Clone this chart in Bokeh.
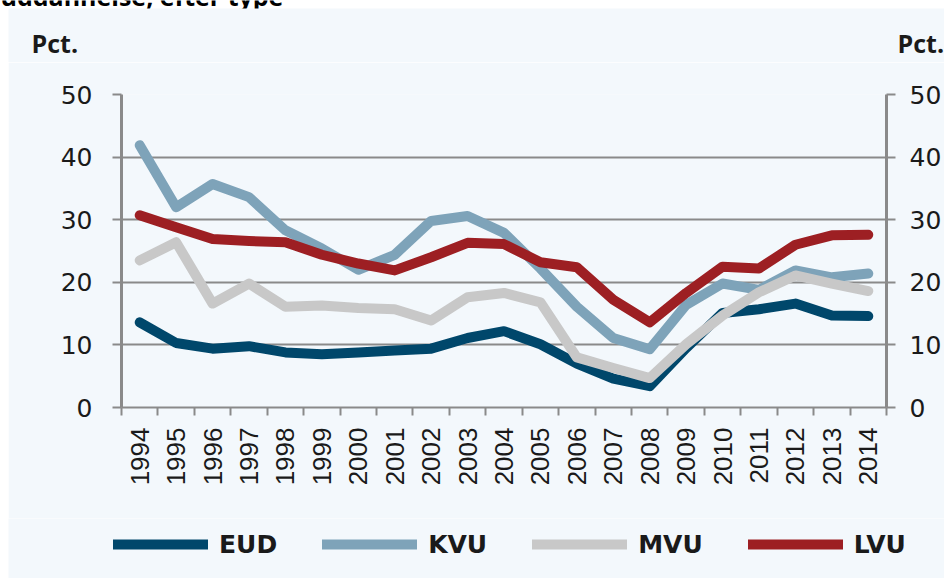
import math
from bokeh.plotting import figure
from bokeh.models import (ColumnDataSource, FixedTicker, LinearAxis, Range1d,
                          Legend, LegendItem, Label, BoxAnnotation)
from bokeh.layouts import column
from bokeh.embed import file_html
from bokeh.resources import INLINE

years = list(range(1994, 2015))
eud = [13.6, 10.3, 9.4, 9.8, 8.8, 8.5, 8.8, 9.1, 9.4, 11.1, 12.2, 10.1, 7.0, 4.6, 3.4,
       9.5, 15.1, 15.7, 16.6, 14.7, 14.6]
kvu = [41.9, 32.0, 35.7, 33.6, 28.3, 25.4, 22.0, 24.4, 29.8, 30.6, 27.9, 22.2, 16.1, 11.1, 9.3,
       16.4, 19.8, 18.8, 21.9, 20.8, 21.4]
mvu = [23.5, 26.4, 16.6, 19.8, 16.1, 16.3, 15.9, 15.7, 13.9, 17.6, 18.3, 16.8, 8.0, 6.3, 4.7,
       10.1, 14.7, 18.4, 21.1, 19.8, 18.6]
lvu = [30.7, 28.8, 26.9, 26.6, 26.4, 24.4, 23.0, 21.9, 24.0, 26.3, 26.1, 23.2, 22.4, 17.2, 13.6,
       18.3, 22.5, 22.2, 26.0, 27.5, 27.6]
series_names = ["EUD", "KVU", "MVU", "LVU"]
series_colors = ["#00476b", "#7ea3b9", "#c8c8c8", "#9d1f23"]
y_ticks = [0, 10, 20, 30, 40, 50]
unit_label = "Pct."
title_text = "uddannelse, efter type"

BG = "#f3f8fc"
GRID = "#8a8a8a"
TXT = "#1a1a1a"

src = ColumnDataSource(dict(year=years, EUD=eud, KVU=kvu, MVU=mvu, LVU=lvu))

# ---------------- top strip: cut title + "Pct." texts ----------------
top = figure(width=944, height=62, output_backend="svg", toolbar_location=None,
             x_range=Range1d(0, 1), y_range=Range1d(0, 1),
             x_axis_type=None, y_axis_type=None, min_border=0,
             background_fill_color="white", border_fill_color="white",
             outline_line_color=None)
top.frame_align = False
top.add_layout(Label(x=0, y=67, x_units="screen", y_units="screen", text=title_text,
                     text_font="Open Sans", text_font_style="bold",
                     text_font_size="25px", text_color="#000000",
                     text_baseline="alphabetic"))
top.add_layout(BoxAnnotation(left=8, right=944, bottom=0, top=54,
                             left_units="screen", right_units="screen",
                             bottom_units="screen", top_units="screen",
                             fill_color=BG, fill_alpha=1, line_color=None))
for xx in (31, 897):
    top.add_layout(Label(x=xx, y=20, x_units="screen", y_units="screen", text=unit_label,
                         text_font="Open Sans", text_font_style="bold",
                         text_font_size="25px", text_color=TXT,
                         text_baseline="alphabetic"))

# ---------------- main chart ----------------
p = figure(width=936, height=456, output_backend="svg", toolbar_location=None,
           x_range=Range1d(1993.5, 2014.5), y_range=Range1d(0, 50),
           min_border_left=113, min_border_right=55, min_border_top=32,
           min_border_bottom=111,
           background_fill_color=BG, border_fill_color=BG, outline_line_color=None)
p.margin = (0, 0, 0, 8)
p.frame_align = False

for name, col in zip(series_names, series_colors):
    p.line("year", name, source=src, line_color=col, line_width=10,
           line_join="round", line_cap="round")

p.xgrid.grid_line_color = None
p.ygrid.grid_line_color = GRID
p.ygrid.grid_line_width = 2
p.ygrid.ticker = FixedTicker(ticks=y_ticks)

xa = p.xaxis[0]
xa.ticker = FixedTicker(ticks=years, minor_ticks=[y - 0.5 for y in years] + [2014.5])
xa.major_tick_line_color = None
xa.minor_tick_line_color = GRID
xa.minor_tick_line_width = 2
xa.minor_tick_out = 8
xa.minor_tick_in = 0
xa.axis_line_color = GRID
xa.axis_line_width = 2
xa.major_label_orientation = math.pi / 2
xa.major_label_standoff = 12
xa.major_label_text_font = "Liberation Sans"
xa.major_label_text_font_size = "26px"
xa.major_label_text_color = TXT

ya = p.yaxis[0]
ra = LinearAxis()
p.add_layout(ra, "right")
for ax, so in ((ya, 20), (ra, 14)):
    ax.ticker = FixedTicker(ticks=y_ticks)
    ax.axis_line_color = GRID
    ax.axis_line_width = 3
    ax.major_tick_line_color = GRID
    ax.major_tick_line_width = 2
    ax.major_tick_out = 9
    ax.major_tick_in = 0
    ax.minor_tick_line_color = None
    ax.major_label_standoff = so
    ax.major_label_text_font = "DejaVu Sans"
    ax.major_label_text_font_size = "25px"
    ax.major_label_text_color = TXT

# ---------------- legend strip ----------------
leg = figure(width=936, height=60, output_backend="svg", toolbar_location=None,
             x_range=Range1d(0, 1), y_range=Range1d(0, 1),
             x_axis_type=None, y_axis_type=None, min_border=0,
             background_fill_color=BG, border_fill_color=BG, outline_line_color=None)
leg.margin = (0, 0, 0, 8)
leg.frame_align = False
# key renderers share the chart data; it lies outside this strip's ranges
key_renderers = [leg.line("year", n, source=src, line_color=c, line_width=10,
                          line_cap="round")
                 for n, c in zip(series_names, series_colors)]
legend = Legend(items=[LegendItem(label=n, renderers=[r])
                       for n, r in zip(series_names, key_renderers)],
                orientation="horizontal", location=(105, 19),
                glyph_width=95, glyph_height=30, label_height=30,
                label_standoff=11, spacing=45, padding=0, margin=0,
                border_line_color=None, background_fill_alpha=0,
                label_text_font="DejaVu Sans", label_text_font_style="bold",
                label_text_font_size="25px", label_text_color=TXT)
leg.add_layout(legend, "center")

layout = column(top, p, leg, spacing=0)

open("out.html", "w").write(file_html(layout, INLINE))
